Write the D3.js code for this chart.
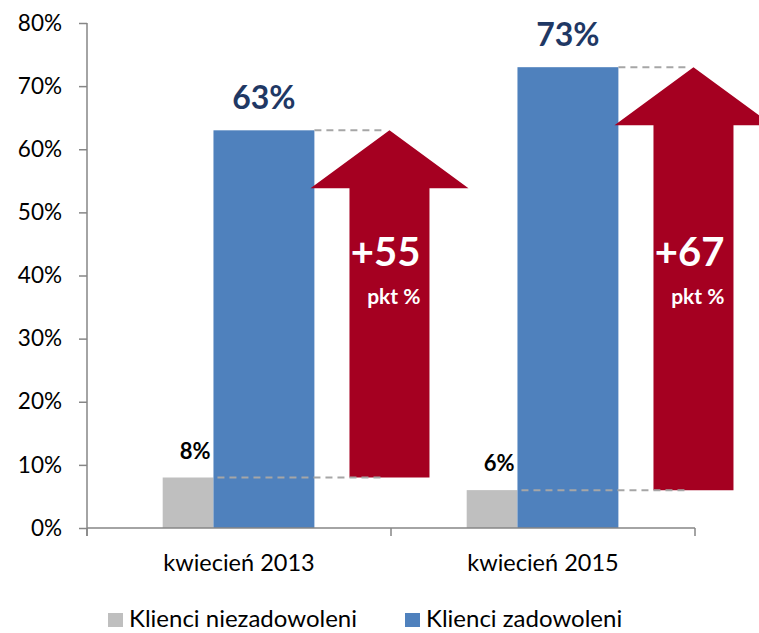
<!DOCTYPE html>
<html>
<head>
<meta charset="utf-8">
<script src="https://cdn.jsdelivr.net/npm/d3@7"></script>
<style>
  body { margin: 0; background: #fff; }
  svg { font-family: Lato, "Open Sans", sans-serif; }
</style>
</head>
<body>
<div id="chart"></div>
<script>
// data
var categories = ['kwiecień 2013', 'kwiecień 2015'];
var unsatisfied = [0.08, 0.06];
var satisfied = [0.63, 0.73];
var seriesNames = ['Klienci niezadowoleni', 'Klienci zadowoleni'];
var yTicks = [0, 0.1, 0.2, 0.3, 0.4, 0.5, 0.6, 0.7, 0.8];

var width = 759, height = 633;
var colors = { gray: '#bfbfbf', blue: '#4f81bd', red: '#a50021', navy: '#1f3864', axis: '#868686' };

var svg = d3.select('#chart').append('svg')
  .attr('width', width)
  .attr('height', height);

var x = d3.scaleBand().domain(categories).range([87, 695]).padding(0);
var y = d3.scaleLinear().domain([0, 0.8]).range([528, 23]);
var bw = x.bandwidth();

var rows = categories.map(function (c, i) {
  return { cat: c, low: unsatisfied[i], high: satisfied[i] };
});

// gray bars (narrower) and blue bars
svg.selectAll('.gray').data(rows).enter().append('rect')
  .attr('x', function (d) { return x(d.cat) + bw * 0.249; })
  .attr('width', bw * 0.167)
  .attr('y', function (d) { return y(d.low); })
  .attr('height', function (d) { return y(0) - y(d.low); })
  .attr('fill', colors.gray);

svg.selectAll('.blue').data(rows).enter().append('rect')
  .attr('x', function (d) { return x(d.cat) + bw * 0.416; })
  .attr('width', bw * 0.332)
  .attr('y', function (d) { return y(d.high); })
  .attr('height', function (d) { return y(0) - y(d.high); })
  .attr('fill', colors.blue);

// arrows
function arrowCx(d) { return x(d.cat) + bw * 0.995; }
function arrow(d) {
  var cx = arrowCx(d), tip = y(d.high), base = tip + 58, bot = y(d.low);
  return 'M' + (cx - 40) + ',' + bot +
    'L' + (cx - 40) + ',' + base +
    'L' + (cx - 79) + ',' + base +
    'L' + cx + ',' + tip +
    'L' + (cx + 79) + ',' + base +
    'L' + (cx + 40) + ',' + base +
    'L' + (cx + 40) + ',' + bot + 'Z';
}
svg.selectAll('.arrow').data(rows).enter().append('path')
  .attr('d', arrow)
  .attr('fill', colors.red);

// dashed guide lines
svg.selectAll('.dashTop').data(rows).enter().append('line')
  .attr('x1', function (d) { return x(d.cat) + bw * 0.748; })
  .attr('x2', function (d) { return arrowCx(d) - 8; })
  .attr('y1', function (d) { return y(d.high); })
  .attr('y2', function (d) { return y(d.high); })
  .attr('stroke', '#a6a6a6').attr('stroke-width', 2).attr('stroke-dasharray', '7,5');

svg.selectAll('.dashLow').data(rows).enter().append('line')
  .attr('x1', function (d) { return x(d.cat) + bw * 0.416 + 4; })
  .attr('x2', function (d) { return arrowCx(d) - 8; })
  .attr('y1', function (d) { return y(d.low); })
  .attr('y2', function (d) { return y(d.low); })
  .attr('stroke', '#a6a6a6').attr('stroke-width', 2).attr('stroke-dasharray', '7,5');

// arrow labels
svg.selectAll('.chg').data(rows).enter().append('text')
  .attr('x', function (d) { return arrowCx(d) + 31; })
  .attr('y', y(0.415))
  .attr('text-anchor', 'end')
  .attr('fill', '#fff')
  .style('font-size', '40px').style('font-weight', 'bold')
  .text(function (d) { return '+' + Math.round((d.high - d.low) * 100); });

svg.selectAll('.pkt').data(rows).enter().append('text')
  .attr('x', function (d) { return arrowCx(d) + 31; })
  .attr('y', y(0.415) + 38)
  .attr('text-anchor', 'end')
  .attr('fill', '#fff')
  .style('font-size', '21px').style('font-weight', 'bold')
  .text('pkt %');

// value labels
svg.selectAll('.vHigh').data(rows).enter().append('text')
  .attr('x', function (d) { return x(d.cat) + bw * 0.582; })
  .attr('y', function (d) { return y(d.high) - 21; })
  .attr('text-anchor', 'middle')
  .attr('fill', colors.navy)
  .style('font-size', '32px').style('font-weight', 'bold')
  .text(function (d) { return Math.round(d.high * 100) + '%'; });

svg.selectAll('.vLow').data(rows).enter().append('text')
  .attr('x', function (d) { return x(d.cat) + bw * 0.416 - 3; })
  .attr('y', function (d) { return y(d.low) - 19; })
  .attr('text-anchor', 'end')
  .attr('fill', '#000')
  .style('font-size', '22px').style('font-weight', 'bold')
  .text(function (d) { return Math.round(d.low * 100) + '%'; });

// y axis
var yAxis = svg.append('g')
  .attr('transform', 'translate(87,0)')
  .call(d3.axisLeft(y).tickValues(yTicks).tickFormat(d3.format('.0%')).tickSize(8).tickPadding(17));
yAxis.select('.domain').attr('stroke', colors.axis).attr('stroke-width', 1.5).attr('d', 'M0,' + y(0.8) + 'V' + (y(0) + 8));
yAxis.selectAll('.tick line').attr('stroke', colors.axis).attr('stroke-width', 1.5);
yAxis.selectAll('.tick text').style('font-size', '22.5px').attr('fill', '#000').style('font-family', 'Lato, sans-serif');

// x axis
var xAxis = svg.append('g')
  .attr('transform', 'translate(0,' + y(0) + ')')
  .call(d3.axisBottom(x).tickSize(0).tickPadding(26));
xAxis.select('.domain').attr('stroke', colors.axis).attr('stroke-width', 1.5).attr('d', 'M87,0H695');
xAxis.selectAll('.tick text').style('font-size', '23.5px').attr('fill', '#000').style('font-family', 'Lato, sans-serif');
xAxis.selectAll('.bound').data(categories.concat(['end'])).enter().append('line')
  .attr('x1', function (d, i) { return i < categories.length ? x(d) : x.range()[1]; })
  .attr('x2', function (d, i) { return i < categories.length ? x(d) : x.range()[1]; })
  .attr('y1', 0).attr('y2', 8)
  .attr('stroke', colors.axis).attr('stroke-width', 1.5);

// legend
var legendX = [108, 405];
var legend = svg.selectAll('.legend').data(seriesNames).enter().append('g')
  .attr('transform', function (d, i) { return 'translate(' + legendX[i] + ',613)'; });
legend.append('rect').attr('width', 15).attr('height', 14)
  .attr('fill', function (d, i) { return i === 0 ? colors.gray : colors.blue; });
legend.append('text').attr('x', 21).attr('y', 14)
  .style('font-size', '24px').attr('fill', '#000')
  .text(function (d) { return d; });
</script>
</body>
</html>
